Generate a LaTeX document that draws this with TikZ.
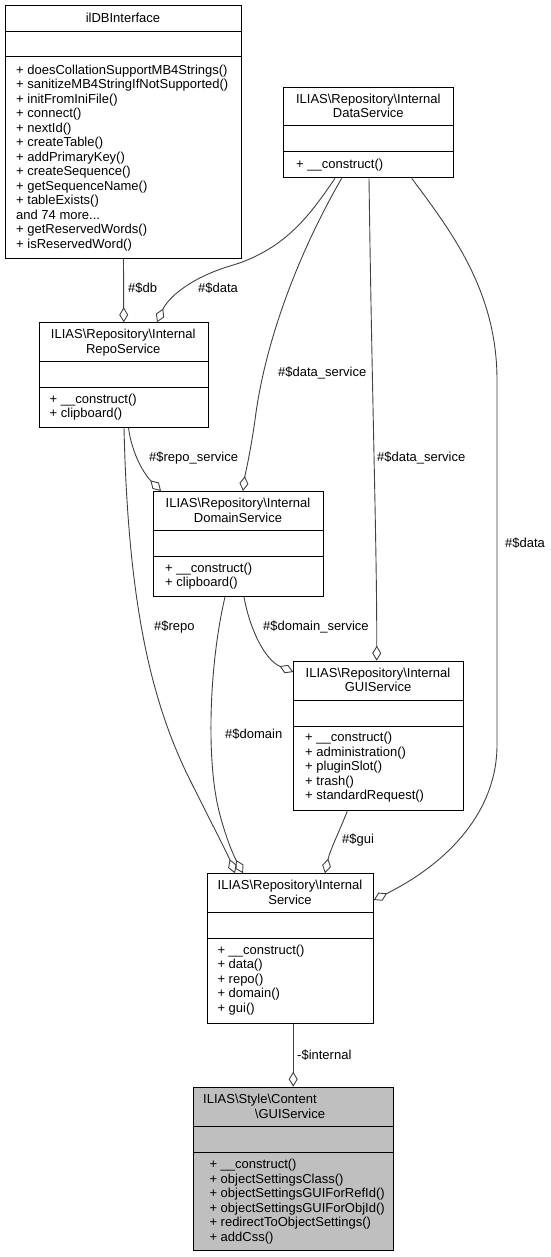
\documentclass[tikz,border=0pt]{standalone}
\usepackage{fontspec}
\setmainfont{Liberation Sans}
\usetikzlibrary{arrows.meta}
\newcommand{\bksl}{\textbackslash}
\definecolor{edgegray}{HTML}{404040}
\definecolor{hlgray}{HTML}{BFBFBF}
\begin{document}
\begin{tikzpicture}[x=1pt,y=-1pt,
  cls/.style={draw=black, line width=1pt, fill=white, rectangle, inner sep=0pt, anchor=north west},
  divl/.style={draw=black, line width=1pt},
  txt/.style={font=\fontsize{13}{14.5}\selectfont, inner sep=0pt, align=left, anchor=north west, execute at begin node={\rule{0pt}{10pt}}},
  ttl/.style={txt, align=center, anchor=north},
  lbl/.style={font=\fontsize{13}{14.5}\selectfont, inner sep=0pt, anchor=west},
  agg/.style={draw=edgegray, line width=0.9pt, -{Diamond[open, length=15pt, width=9pt, line width=0.9pt]}}
]
\useasboundingbox (0,0) rectangle (550,1257);

% ---------- ilDBInterface ----------
\node[cls, minimum width=236pt, minimum height=253pt] (db) at (5,5) {};
\node[ttl] (dbT) at (123,12) {ilDBInterface};
\draw[divl] (5,32) -- (241,32);
\draw[divl] (5,57) -- (241,57);
\node[txt] (dbM) at (16,64.5) {+ doesCollationSupportMB4Strings()\\+ sanitizeMB4StringIfNotSupported()\\+ initFromIniFile()\\+ connect()\\+ nextId()\\+ createTable()\\+ addPrimaryKey()\\+ createSequence()\\+ getSequenceName()\\+ tableExists()\\and 74 more...\\+ getReservedWords()\\+ isReservedWord()};

% ---------- DataService ----------
\node[cls, minimum width=170pt, minimum height=90.6pt] (data) at (283.3,86.7) {};
\node[ttl] (dataT) at (368.3,93.7) {ILIAS\bksl{}Repository\bksl{}Internal\\DataService};
\draw[divl] (283.3,126) -- (453.3,126);
\draw[divl] (283.3,152) -- (453.3,152);
\node[txt] (dataM) at (296,158.5) {+ \_\_construct()};

% ---------- RepoService ----------
\node[cls, minimum width=169.5pt, minimum height=104.4pt] (repo) at (38.5,322.3) {};
\node[ttl] (repoT) at (123.25,329.3) {ILIAS\bksl{}Repository\bksl{}Internal\\RepoService};
\draw[divl] (38.5,361.6) -- (208,361.6);
\draw[divl] (38.5,387.6) -- (208,387.6);
\node[txt] (repoM) at (49.5,393.8) {+ \_\_construct()\\+ clipboard()};

% ---------- DomainService ----------
\node[cls, minimum width=169.4pt, minimum height=105pt] (domain) at (153.3,491) {};
\node[ttl] (domainT) at (238,498) {ILIAS\bksl{}Repository\bksl{}Internal\\DomainService};
\draw[divl] (153.3,530.5) -- (322.7,530.5);
\draw[divl] (153.3,556.5) -- (322.7,556.5);
\node[txt] (domainM) at (165,562.7) {+ \_\_construct()\\+ clipboard()};

% ---------- GUIService (internal) ----------
\node[cls, minimum width=169.4pt, minimum height=149.3pt] (gui) at (293.3,660.7) {};
\node[ttl] (guiT) at (378,667.7) {ILIAS\bksl{}Repository\bksl{}Internal\\GUIService};
\draw[divl] (293.3,700) -- (462.7,700);
\draw[divl] (293.3,726) -- (462.7,726);
\node[txt] (guiM) at (305,732.3) {+ \_\_construct()\\+ administration()\\+ pluginSlot()\\+ trash()\\+ standardRequest()};

% ---------- Service ----------
\node[cls, minimum width=165.4pt, minimum height=150pt] (svc) at (207.3,873.3) {};
\node[ttl] (svcT) at (290,880.3) {ILIAS\bksl{}Repository\bksl{}Internal\\Service};
\draw[divl] (207.3,912.7) -- (372.7,912.7);
\draw[divl] (207.3,938.5) -- (372.7,938.5);
\node[txt] (svcM) at (217.3,944.8) {+ \_\_construct()\\+ data()\\+ repo()\\+ domain()\\+ gui()};

% ---------- Style\Content\GUIService ----------
\node[cls, fill=hlgray, minimum width=200pt, minimum height=163.3pt] (style) at (192.7,1086.7) {};
\node[font=\fontsize{13}{14.5}\selectfont, inner sep=0pt, anchor=base west] (styleT1) at (203,1103.7) {ILIAS\bksl{}Style\bksl{}Content};
\node[font=\fontsize{13}{14.5}\selectfont, inner sep=0pt, anchor=base] (styleT2) at (290,1118.2) {\bksl{}GUIService};
\draw[divl] (192.7,1126.7) -- (392.7,1126.7);
\draw[divl] (192.7,1152.7) -- (392.7,1152.7);
\node[txt] (styleM) at (209.3,1159) {+ \_\_construct()\\+ objectSettingsClass()\\+ objectSettingsGUIForRefId()\\+ objectSettingsGUIForObjId()\\+ redirectToObjectSettings()\\+ addCss()};

% ---------- connectors ----------
\draw[agg] (db.south) -- (repo.north);
\draw[agg] ([xshift=51.7pt]data.south west) .. controls (310,215) and (285,250) .. (230,266)
  .. controls (190,278) and (168,298) .. ([xshift=118.5pt]repo.north west);
\draw[agg] ([xshift=58.4pt]data.south west) .. controls (300,250) and (265,340) .. (255,420)
  .. controls (250,455) and (245,475) .. ([xshift=89.7pt]domain.north west);
\draw[agg] ([xshift=85.7pt]data.south west) .. controls (372,400) and (377,550) .. ([xshift=83.4pt]gui.north west);
\draw[agg] ([xshift=128.4pt]data.south west) .. controls (450,230) and (497,290) .. (497,380)
  -- (497,745) .. controls (497,810) and (450,862) .. ([yshift=-26.7pt]svc.north east);
\draw[agg] ([xshift=90pt]repo.south west) .. controls (132,455) and (145,475) .. ([xshift=7.7pt]domain.north west);
\draw[agg] ([xshift=85.5pt]repo.south west) .. controls (128,600) and (150,700) .. (190,780)
  .. controls (215,830) and (228,855) .. ([xshift=27.7pt]svc.north west);
\draw[agg] ([xshift=71.7pt]domain.south west) .. controls (210,660) and (205,760) .. (220,815)
  .. controls (228,845) and (236,860) .. ([xshift=35.7pt]svc.north west);
\draw[agg] ([xshift=90.7pt]domain.south west) .. controls (250,630) and (265,660) .. ([yshift=-11.3pt]gui.north west);
\draw[agg] ([xshift=54pt]gui.south west) .. controls (340,830) and (330,850) .. ([xshift=117.7pt]svc.north west);
\draw[agg] (style.north |- svc.south) -- (style.north);

% ---------- labels ----------
\node[lbl] (lDb) at (128,288) {\#\$db};
\node[lbl] (lData1) at (198,288) {\#\$data};
\node[lbl] (lDs1) at (278,373) {\#\$data\_service};
\node[lbl] (lDs2) at (377,458) {\#\$data\_service};
\node[lbl] (lData2) at (505,543) {\#\$data};
\node[lbl] (lRs) at (149,458) {\#\$repo\_service};
\node[lbl] (lRepo) at (154,627) {\#\$repo};
\node[lbl] (lDms) at (263,627) {\#\$domain\_service};
\node[lbl] (lDom) at (225,734) {\#\$domain};
\node[lbl] (lGui) at (342,840) {\#\$gui};
\node[lbl] (lInt) at (297,1055) {-\$internal};
\end{tikzpicture}
\end{document}
